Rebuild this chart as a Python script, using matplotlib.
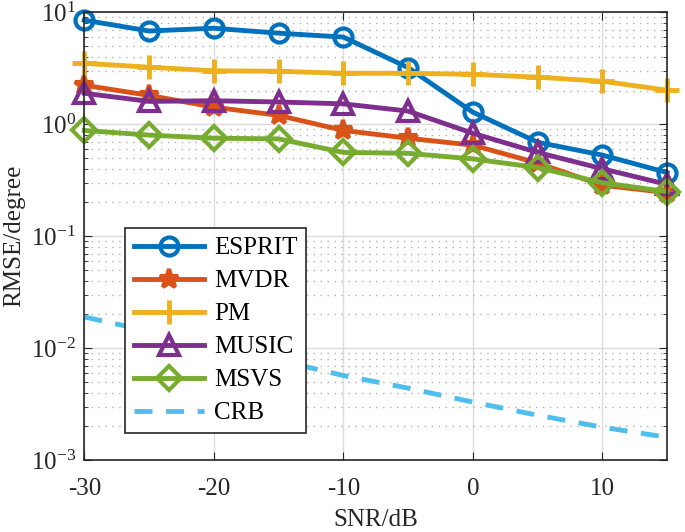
import matplotlib
matplotlib.use('Agg')
import matplotlib.pyplot as plt
from matplotlib.ticker import LogLocator, NullFormatter, LogFormatterMathtext

plt.rcParams['font.family'] = ['Liberation Serif', 'DejaVu Serif']
plt.rcParams['mathtext.fontset'] = 'custom'
plt.rcParams['mathtext.rm'] = 'Liberation Serif'
plt.rcParams['axes.unicode_minus'] = False

# SNR points (dB)
snr = [-30, -25, -20, -15, -10, -5, 0, 5, 10, 15]

# RMSE values (degree)
esprit = [8.5, 6.8, 7.2, 6.5, 6.0, 3.2, 1.28, 0.69, 0.53, 0.37]
mvdr = [2.23, 1.81, 1.42, 1.20, 0.88, 0.75, 0.65, 0.45, 0.285, 0.245]
pm = [3.5, 3.23, 3.0, 2.97, 2.85, 2.85, 2.79, 2.63, 2.42, 2.01]
music = [1.89, 1.60, 1.62, 1.58, 1.52, 1.31, 0.83, 0.56, 0.40, 0.29]
msvs = [0.88, 0.80, 0.75, 0.74, 0.56, 0.55, 0.49, 0.41, 0.30, 0.25]
crb = [0.019, 0.0142, 0.0106, 0.0078, 0.0057, 0.0044, 0.0033, 0.00252, 0.00197, 0.0016]

fig = plt.figure(figsize=(6.85, 5.32), dpi=100)
ax = fig.add_axes([0.123, 0.135, 0.851, 0.842])

lw = 3.5
kw = dict(lw=lw, clip_on=False)
ax.semilogy(snr, esprit, '-o', color='#0072BD', ms=13, mew=3, mfc='none', label='ESPRIT', **kw)
ax.semilogy(snr, mvdr, '-*', color='#D95319', ms=14, mew=3, label='MVDR', **kw)
ax.semilogy(snr, pm, '-+', color='#EDB120', ms=17, mew=3.5, label='PM', **kw)
ax.semilogy(snr, music, '-^', color='#7E2F8E', ms=14, mew=3, mfc='none', label='MUSIC', **kw)
ax.semilogy(snr, msvs, '-D', color='#77AC30', ms=12, mew=3, mfc='none', label='MSVS', **kw)
ax.semilogy(snr, crb, '--', color='#4DBEEE', lw=lw, dashes=(3.7, 2.8), label='CRB')

ax.set_xlim(-30, 15)
ax.set_ylim(1e-3, 1e1)
ax.set_xticks([-30, -20, -10, 0, 10])
ax.yaxis.set_major_locator(LogLocator(base=10, numticks=10))
ax.yaxis.set_major_formatter(LogFormatterMathtext())
ax.yaxis.set_minor_locator(LogLocator(base=10, subs=range(2, 10), numticks=20))
ax.yaxis.set_minor_formatter(NullFormatter())

ax.grid(True, which='major', color='#dcdcdc', lw=1, ls='-')
ax.grid(True, which='minor', axis='y', color='#b0b0b0', lw=1, ls=(0, (1, 4)))
ax.set_axisbelow(True)

ax.tick_params(which='both', direction='in', top=True, right=True, labelsize=18, colors='#262626')
ax.tick_params(axis='x', pad=13)
ax.tick_params(axis='y', pad=6)
ax.tick_params(which='major', length=6)
ax.tick_params(which='minor', length=3)
for s in ax.spines.values():
    s.set_color('#262626')
    s.set_linewidth(1.2)

ax.set_xlabel('SNR/dB', fontsize=18, color='#262626', labelpad=6)
ax.set_ylabel('RMSE/degree', fontsize=18, color='#262626', labelpad=4)

leg = ax.legend(loc='upper left', bbox_to_anchor=(0.07, 0.518), fontsize=18, numpoints=1,
                handlelength=2.8, fancybox=False, framealpha=1, edgecolor='#262626',
                borderpad=0.35, labelspacing=0.42, handletextpad=0.4, borderaxespad=0)
leg.get_frame().set_linewidth(1.2)

fig.savefig('out.png', dpi=100)
